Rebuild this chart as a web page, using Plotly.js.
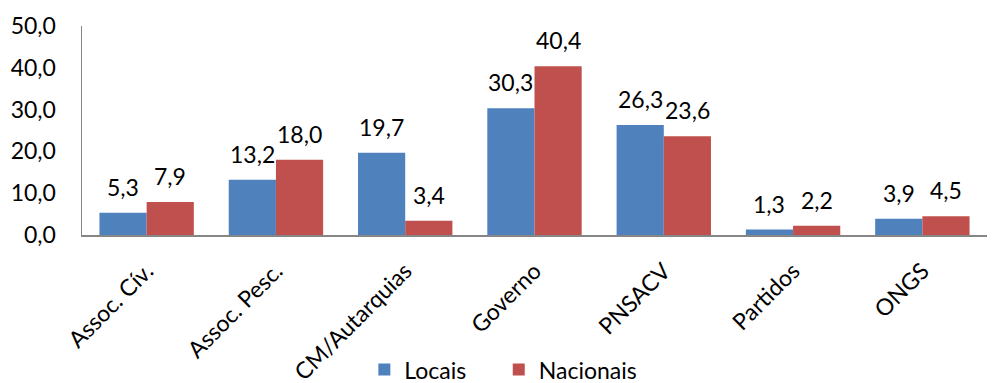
<!DOCTYPE html>
<html>
<head>
<meta charset="utf-8">
<script src="https://cdn.plot.ly/plotly-3.0.1.min.js"></script>
<style>html,body{margin:0;padding:0;background:#fff;}#chart{width:993px;height:383px;}</style>
</head>
<body>
<div id="chart"></div>
<script>
var categories = ["Assoc. Cív.", "Assoc. Pesc.", "CM/Autarquias", "Governo", "PNSACV", "Partidos", "ONGS"];
var locais = [5.3, 13.2, 19.7, 30.3, 26.3, 1.3, 3.9];
var nacionais = [7.9, 18.0, 3.4, 40.4, 23.6, 2.2, 4.5];
var yTicks = [0, 10, 20, 30, 40, 50];

var fontFam = "Lato, 'Open Sans', sans-serif";
var FS = 23;
var plotW = 993 - 82 - 6;
var bargap = 0.27;
var barW = plotW / categories.length * (1 - bargap) / 2;

function fmt(v) { return v.toFixed(1).replace(".", ","); }
var annotations = [];
[[locais, -barW / 2], [nacionais, barW / 2]].forEach(function (s) {
  s[0].forEach(function (v, i) {
    annotations.push({x: categories[i], y: v, xref: "x", yref: "y", text: fmt(v),
      showarrow: false, xshift: s[1], yshift: 26, yanchor: "middle",
      font: {family: fontFam, size: FS, color: "#000"}});
  });
});

var traces = [
  {type: "bar", name: "Locais", x: categories, y: locais, marker: {color: "#4F81BD"}, legend: "legend"},
  {type: "bar", name: "Nacionais", x: categories, y: nacionais, marker: {color: "#C0504D"}, legend: "legend2"}
];
function legendAt(xp) {
  return {orientation: "h", x: xp, xanchor: "left", yref: "container", y: 0.035, yanchor: "middle",
          font: {family: fontFam, size: FS, color: "#000"}, itemwidth: 30, bgcolor: "rgba(0,0,0,0)"};
}
var layout = {
  width: 993, height: 383,
  margin: {l: 82, r: 6, t: 26, b: 148},
  paper_bgcolor: "#fff", plot_bgcolor: "#fff",
  separators: ",.",
  font: {family: fontFam, size: FS, color: "#000"},
  barmode: "group", bargap: bargap, bargroupgap: 0,
  showlegend: true,
  annotations: annotations,
  legend: legendAt(0.312),
  legend2: legendAt(0.4605),
  xaxis: {type: "category", tickangle: -45, showline: true, linecolor: "#868686", linewidth: 1.5,
          showgrid: false, ticks: "", ticklabelstandoff: 12, tickfont: {family: fontFam, size: FS}},
  yaxis: {range: [0, 50], tickvals: yTicks, tickformat: ".1f", showline: true, linecolor: "#868686", linewidth: 1.5,
          showgrid: false, zeroline: false, ticks: "", ticklabelstandoff: 20, tickfont: {family: fontFam, size: FS}}
};
Plotly.newPlot("chart", traces, layout, {displayModeBar: false, staticPlot: true});
</script>
</body>
</html>
